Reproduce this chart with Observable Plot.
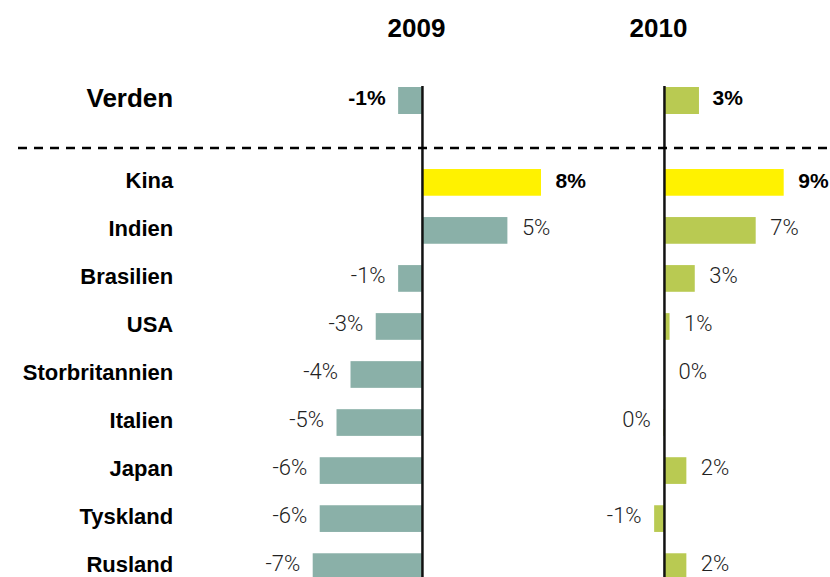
<!DOCTYPE html>
<html>
<head>
<meta charset="utf-8">
<script src="https://cdn.jsdelivr.net/npm/d3@7"></script>
<script src="https://cdn.jsdelivr.net/npm/@observablehq/plot@0.6"></script>
<style>
  html, body { margin: 0; padding: 0; background: #fff; overflow: hidden; }
  svg { display: block; }
</style>
</head>
<body>
<div id="chart"></div>
<script>
// ---- data ----
const years = ["2009", "2010"];
const worldName = "Verden";
const worldValues = [-1.7, 2.5];          // 2009, 2010
const worldLabels = ["-1%", "3%"];
const countries = ["Kina", "Indien", "Brasilien", "USA", "Storbritannien", "Italien", "Japan", "Tyskland", "Rusland"];
const values2009 = [8.5, 6.1, -1.7, -3.3, -5.1, -6.1, -7.3, -7.3, -7.8];
const values2010 = [8.55, 6.55, 2.2, 0.4, 0, -0.05, 1.6, -0.7, 1.6];
const labels2009 = ["8%", "5%", "-1%", "-3%", "-4%", "-5%", "-6%", "-6%", "-7%"];
const labels2010 = ["9%", "7%", "3%", "1%", "0%", "0%", "2%", "-1%", "2%"];
const highlight = "Kina";

const yearColor = {"2009": "#8AB0A8", "2010": "#B9CA52"};
const highlightColor = "#FFF200";

const worldRows = years.map((y, i) => ({year: y, name: worldName, value: worldValues[i], label: worldLabels[i]}));
const rows = [];
countries.forEach((c, i) => {
  rows.push({year: "2009", name: c, value: values2009[i], label: labels2009[i]});
  rows.push({year: "2010", name: c, value: values2010[i], label: labels2010[i]});
});

const boldFont = "'Liberation Sans', Arial, Helvetica, sans-serif";
const lightFont = "Roboto, 'Liberation Sans', sans-serif";

const common = {
  width: 830,
  marginLeft: 312.7,
  marginRight: 46.3,
  style: {fontFamily: boldFont, background: "#fff", color: "#000"},
  fx: {domain: years, paddingInner: 13 / 242, paddingOuter: 0, round: false, axis: null, label: null},
  x: {domain: [-7.8, 8.55], axis: null, round: false}
};

const fillOf = d => d.name === highlight ? highlightColor : yearColor[d.year];

// ---- top plot: year titles + world row ----
const topPlot = Plot.plot({
  ...common,
  height: 150,
  marginTop: 86,
  marginBottom: 0,
  y: {domain: [worldName], range: [87, 114], padding: 0, round: false, label: null},
  marks: [
    Plot.axisY({tickSize: 0, tickPadding: 140, dy: -2, fontSize: 26, fontWeight: "bold", fontFamily: boldFont, label: null, fill: "#000"}),
    Plot.text(years, {fx: d => d, x: () => 0, text: d => d, frameAnchor: "top", lineAnchor: "middle", dy: -58, dx: -6, fontSize: 26, fontWeight: "bold", fontFamily: boldFont, fill: "#000"}),
    Plot.barX(worldRows, {fx: "year", y: "name", x1: () => 0, x2: "value", fill: fillOf}),
    Plot.text(worldRows.filter(d => d.value >= 0), {fx: "year", y: "name", x: "value", text: "label", dx: 13, dy: -3, textAnchor: "start", fontSize: 21, fontWeight: "bold", fontFamily: boldFont, fill: "#000"}),
    Plot.text(worldRows.filter(d => d.value < 0), {fx: "year", y: "name", x: "value", text: "label", dx: -13, dy: -3, textAnchor: "end", fontSize: 21, fontWeight: "bold", fontFamily: boldFont, fill: "#000"}),
    Plot.ruleX([0], {stroke: "#111", strokeWidth: 2.5})
  ]
});

// dashed separator across the whole width
d3.select(topPlot).append("line")
  .attr("x1", 18).attr("x2", 830).attr("y1", 148).attr("y2", 148)
  .attr("stroke", "#000").attr("stroke-width", 2.5).attr("stroke-dasharray", "9 7");

// ---- bottom plot: countries ----
const bottomPlot = Plot.plot({
  ...common,
  height: 449,
  marginTop: 0,
  marginBottom: 0,
  y: {domain: countries, paddingInner: 0.444, paddingOuter: 0.396, round: false, label: null},
  marks: [
    Plot.axisY({tickSize: 0, tickPadding: 140, dy: -2, fontSize: 22, fontWeight: "bold", fontFamily: boldFont, label: null, fill: "#000"}),
    Plot.barX(rows, {fx: "year", y: "name", x1: () => 0, x2: "value", fill: fillOf}),
    Plot.text(rows.filter(d => d.name === highlight), {fx: "year", y: "name", x: "value", text: "label", dx: 14, dy: -2, textAnchor: "start", fontSize: 21, fontWeight: "bold", fontFamily: boldFont, fill: "#000"}),
    Plot.text(rows.filter(d => d.name !== highlight && d.value >= 0), {fx: "year", y: "name", x: "value", text: "label", dx: 14, dy: -3, textAnchor: "start", fontSize: 22, fontWeight: 300, fontFamily: lightFont, fill: "#222"}),
    Plot.text(rows.filter(d => d.name !== highlight && d.value < 0), {fx: "year", y: "name", x: "value", text: "label", dx: -13, dy: -3, textAnchor: "end", fontSize: 22, fontWeight: 300, fontFamily: lightFont, fill: "#222"}),
    Plot.ruleX([0], {stroke: "#111", strokeWidth: 2.5})
  ]
});

const chart = document.getElementById("chart");
chart.appendChild(topPlot);
chart.appendChild(bottomPlot);
</script>
</body>
</html>
